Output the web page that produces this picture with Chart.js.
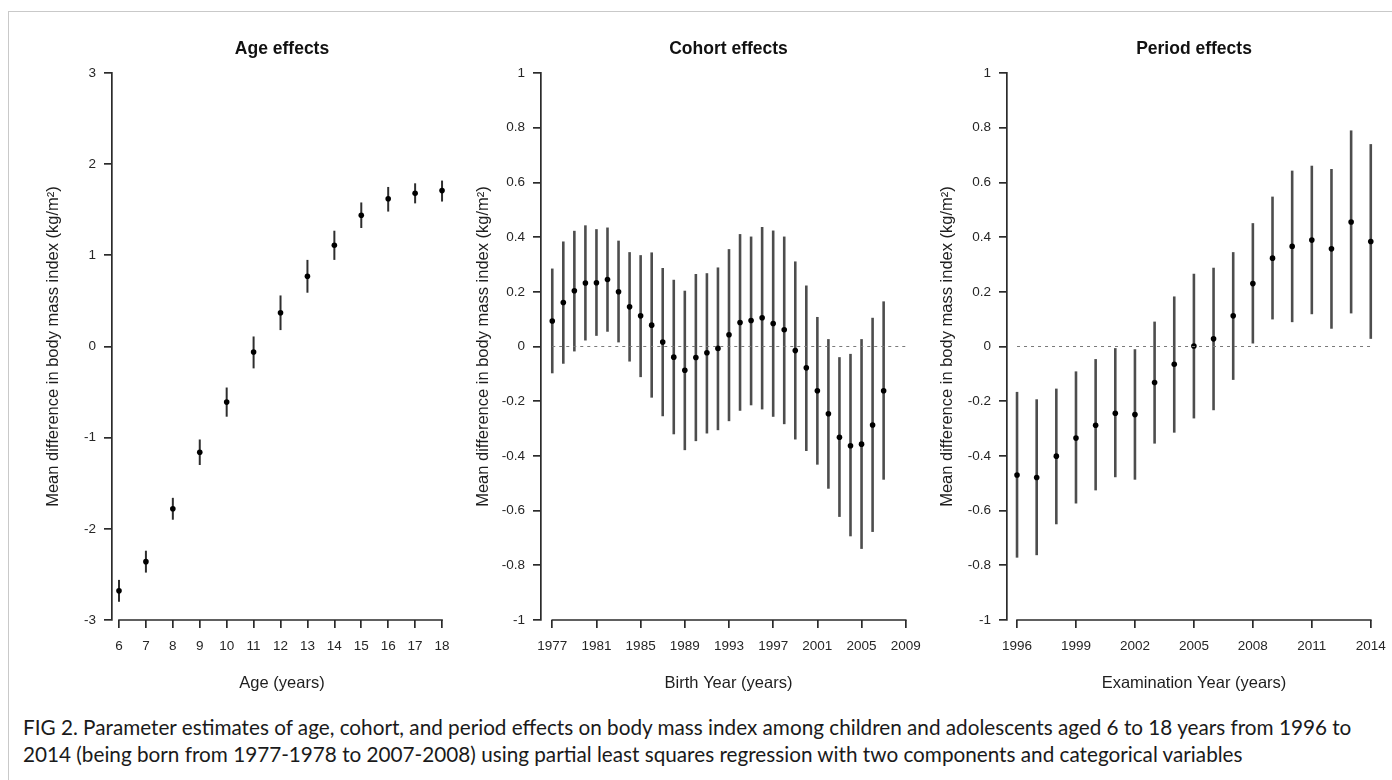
<!DOCTYPE html>
<html>
<head>
<meta charset="utf-8">
<script src="https://cdn.jsdelivr.net/npm/chart.js@4.4.1/dist/chart.umd.min.js"></script>
<style>
  html, body { margin: 0; padding: 0; background: #fff; overflow: hidden; }
  #page { position: relative; width: 1392px; height: 780px; }
  #frame { position: absolute; left: 8px; top: 11px; right: -4px; bottom: -4px;
           border-top: 1.5px solid #c9c9c9; border-left: 1.5px solid #c9c9c9; }
  canvas { position: absolute; top: 0; }
  #caption { position: absolute; left: 23px; top: 714px; font-family: Lato, "Open Sans", sans-serif;
             font-size: 18.5px; line-height: 27px; color: #1a1a1a; white-space: nowrap; }
</style>
</head>
<body>
<div id="page">
  <div id="frame"></div>
  <canvas id="ageChart" width="450" height="700" style="left:20px"></canvas>
  <canvas id="cohortChart" width="480" height="700" style="left:460px"></canvas>
  <canvas id="periodChart" width="490" height="700" style="left:920px"></canvas>
  <div id="caption">
    <span id="capLine1">FIG 2. Parameter estimates of age, cohort, and period effects on body mass index among children and adolescents aged 6 to 18 years from 1996 to</span><br>
    <span>2014 (being born from 1977-1978 to 2007-2008) using partial least squares regression with two components and categorical variables</span>
  </div>
</div>
<script>
// ---- data ----
const ageYears = [6, 7, 8, 9, 10, 11, 12, 13, 14, 15, 16, 17, 18];
const ageMean  = [-2.68, -2.36, -1.78, -1.16, -0.61, -0.06, 0.37, 0.77, 1.11, 1.44, 1.62, 1.68, 1.71];
const ageLower = [-2.80, -2.48, -1.90, -1.30, -0.77, -0.24, 0.18, 0.59, 0.95, 1.30, 1.48, 1.57, 1.59];
const ageUpper = [-2.56, -2.24, -1.66, -1.02, -0.45, 0.11, 0.56, 0.95, 1.27, 1.58, 1.75, 1.79, 1.82];

const cohortYears = [1977, 1978, 1979, 1980, 1981, 1982, 1983, 1984, 1985, 1986, 1987, 1988, 1989, 1990, 1991, 1992,
                     1993, 1994, 1995, 1996, 1997, 1998, 1999, 2000, 2001, 2002, 2003, 2004, 2005, 2006, 2007];
const cohortMean  = [0.093, 0.161, 0.204, 0.232, 0.233, 0.245, 0.200, 0.145, 0.112, 0.078, 0.016, -0.039, -0.087, -0.040, -0.023, -0.007,
                     0.043, 0.088, 0.095, 0.105, 0.084, 0.061, -0.015, -0.078, -0.162, -0.246, -0.332, -0.363, -0.357, -0.287, -0.162];
const cohortUpper = [0.285, 0.384, 0.423, 0.443, 0.429, 0.435, 0.387, 0.345, 0.334, 0.344, 0.287, 0.244, 0.204, 0.265, 0.268, 0.289,
                     0.356, 0.411, 0.402, 0.437, 0.424, 0.402, 0.311, 0.223, 0.108, 0.027, -0.039, -0.027, 0.027, 0.105, 0.165];
const cohortLower = [-0.098, -0.063, -0.018, 0.022, 0.039, 0.054, 0.015, -0.055, -0.112, -0.187, -0.255, -0.321, -0.379, -0.346, -0.318, -0.306,
                     -0.273, -0.235, -0.215, -0.230, -0.257, -0.284, -0.340, -0.382, -0.432, -0.520, -0.623, -0.694, -0.740, -0.678, -0.487];

const periodYears = [1996, 1997, 1998, 1999, 2000, 2001, 2002, 2003, 2004, 2005, 2006, 2007, 2008, 2009, 2010, 2011, 2012, 2013, 2014];
const periodMean  = [-0.470, -0.479, -0.401, -0.335, -0.288, -0.244, -0.249, -0.132, -0.065, 0.002, 0.028, 0.112, 0.230, 0.323, 0.366, 0.389, 0.357, 0.455, 0.384];
const periodUpper = [-0.166, -0.193, -0.154, -0.091, -0.046, -0.006, -0.010, 0.091, 0.183, 0.266, 0.288, 0.345, 0.451, 0.548, 0.643, 0.661, 0.649, 0.790, 0.740];
const periodLower = [-0.772, -0.763, -0.650, -0.574, -0.526, -0.478, -0.487, -0.355, -0.315, -0.263, -0.233, -0.122, 0.011, 0.099, 0.089, 0.118, 0.065, 0.121, 0.028];

const ageXTicks = [6, 7, 8, 9, 10, 11, 12, 13, 14, 15, 16, 17, 18];
const ageYTicks = [-3, -2, -1, 0, 1, 2, 3];
const cohortXTicks = [1977, 1981, 1985, 1989, 1993, 1997, 2001, 2005, 2009];
const periodXTicks = [1996, 1999, 2002, 2005, 2008, 2011, 2014];
const effectYTicks = [-1, -0.8, -0.6, -0.4, -0.2, 0, 0.2, 0.4, 0.6, 0.8, 1];
const cohortZeroLine = [1977, 2009];
const periodZeroLine = [1996, 2014];

const yTitle = 'Mean difference in body mass index (kg/m\u00B2)';
const FONT = '"Liberation Sans", Arial, Helvetica, sans-serif';

// vertical CI bars drawn under the points
const errorBars = {
  id: 'errorBars',
  beforeDatasetsDraw(chart) {
    const { ctx, scales: { x, y } } = chart;
    ctx.save();
    chart.data.datasets.forEach(ds => {
      if (!ds.lower) return;
      ctx.strokeStyle = ds.barColor;
      ctx.lineWidth = ds.barWidth;
      ds.data.forEach((p, i) => {
        const px = x.getPixelForValue(p.x);
        ctx.beginPath();
        ctx.moveTo(px, y.getPixelForValue(ds.lower[i]));
        ctx.lineTo(px, y.getPixelForValue(ds.upper[i]));
        ctx.stroke();
      });
    });
    ctx.restore();
  }
};

// R style x axis: line runs from first to last tick only
const rAxis = {
  id: 'rAxis',
  afterDraw(chart) {
    const { ctx, scales: { x } } = chart;
    const t = x.ticks;
    const yb = chart.chartArea.bottom;
    ctx.save();
    ctx.strokeStyle = '#2b2b2b';
    ctx.lineWidth = 1.7;
    ctx.beginPath();
    ctx.moveTo(x.getPixelForValue(t[0].value) - 0.8, yb);
    ctx.lineTo(x.getPixelForValue(t[t.length - 1].value) + 0.8, yb);
    ctx.stroke();
    ctx.restore();
  }
};

function fmt(v) {
  return String(Math.round(v * 10) / 10);
}

function makePanel(id, o) {
  const datasets = [];
  if (o.zero) {
    datasets.push({
      type: 'line',
      data: o.zero.map(v => ({ x: v, y: 0 })),
      borderColor: '#7a7a7a', borderWidth: 1.2, borderDash: [3, 4],
      pointRadius: 0, fill: false
    });
  }
  datasets.push({
    type: 'scatter',
    data: o.xs.map((v, i) => ({ x: v, y: o.mean[i] })),
    lower: o.lower, upper: o.upper,
    barColor: o.barColor, barWidth: o.barWidth,
    backgroundColor: '#000', borderWidth: 0, pointRadius: 2.8,
    clip: false
  });

  return new Chart(document.getElementById(id), {
    type: 'scatter',
    data: { datasets },
    plugins: [errorBars, rAxis],
    options: {
      responsive: false,
      animation: false,
      devicePixelRatio: 1,
      layout: { padding: { left: 0, right: o.padRight, top: 0, bottom: 0 } },
      plugins: {
        legend: { display: false },
        tooltip: { enabled: false },
        title: {
          display: true, text: o.title, fullSize: false, color: '#111',
          font: { family: FONT, size: 17.5, weight: 'bold' },
          padding: { top: 38.5, bottom: 13.5 }
        }
      },
      scales: {
        x: {
          type: 'linear', position: 'bottom', min: o.xmin, max: o.xmax,
          afterBuildTicks: s => { s.ticks = o.xTicks.map(v => ({ value: v })); },
          afterFit: s => { s.height = 80; },
          border: { display: false },
          grid: { drawOnChartArea: false, drawTicks: true, tickLength: 8, color: '#2b2b2b', lineWidth: 1.7 },
          ticks: { padding: 10, color: '#262626', maxRotation: 0, autoSkip: false,
                   font: { family: FONT, size: 13.5 }, callback: v => String(v) },
          title: { display: true, text: o.xTitle, color: '#1e1e1e',
                   font: { family: FONT, size: 16.5 }, padding: { top: 0, bottom: 7 } }
        },
        y: {
          type: 'linear', position: 'left', min: o.yTicks[0], max: o.yTicks[o.yTicks.length - 1],
          afterBuildTicks: s => { s.ticks = o.yTicks.map(v => ({ value: v })); },
          afterFit: s => { s.width = o.yWidth; },
          border: { display: true, color: '#2b2b2b', width: 1.7 },
          grid: { drawOnChartArea: false, drawTicks: true, tickLength: 8, color: '#2b2b2b', lineWidth: 1.7 },
          ticks: { padding: 8, color: '#262626', font: { family: FONT, size: 13.5 }, callback: v => fmt(v) },
          title: { display: true, text: yTitle, color: '#1e1e1e',
                   font: { family: FONT, size: 16.5 }, padding: { top: o.yTitlePad, bottom: 0 } }
        }
      }
    }
  });
}

makePanel('ageChart', {
  title: 'Age effects', xTitle: 'Age (years)',
  xs: ageYears, mean: ageMean, lower: ageLower, upper: ageUpper,
  xTicks: ageXTicks, yTicks: ageYTicks, xmin: 5.74, xmax: 18.37,
  yWidth: 92, yTitlePad: 24, padRight: 18, barColor: '#2e2e2e', barWidth: 2
});

makePanel('cohortChart', {
  title: 'Cohort effects', xTitle: 'Birth Year (years)',
  xs: cohortYears, mean: cohortMean, lower: cohortLower, upper: cohortUpper,
  xTicks: cohortXTicks, yTicks: effectYTicks, xmin: 1975.98, xmax: 2009.93, zero: cohortZeroLine,
  yWidth: 81, yTitlePad: 14, padRight: 24, barColor: '#4d4d4d', barWidth: 2.6
});

makePanel('periodChart', {
  title: 'Period effects', xTitle: 'Examination Year (years)',
  xs: periodYears, mean: periodMean, lower: periodLower, upper: periodUpper,
  xTicks: periodXTicks, yTicks: effectYTicks, xmin: 1995.49, xmax: 2014.52, zero: periodZeroLine,
  yWidth: 87, yTitlePad: 18, padRight: 29, barColor: '#4d4d4d', barWidth: 2.6
});

// fit the caption's first line to the width it takes in the figure
(function fitCaption() {
  const cap = document.getElementById('caption');
  const w = document.getElementById('capLine1').getBoundingClientRect().width;
  const size = 18.5 * 1329 / w;
  cap.style.fontSize = size.toFixed(2) + 'px';
})();
</script>
</body>
</html>
